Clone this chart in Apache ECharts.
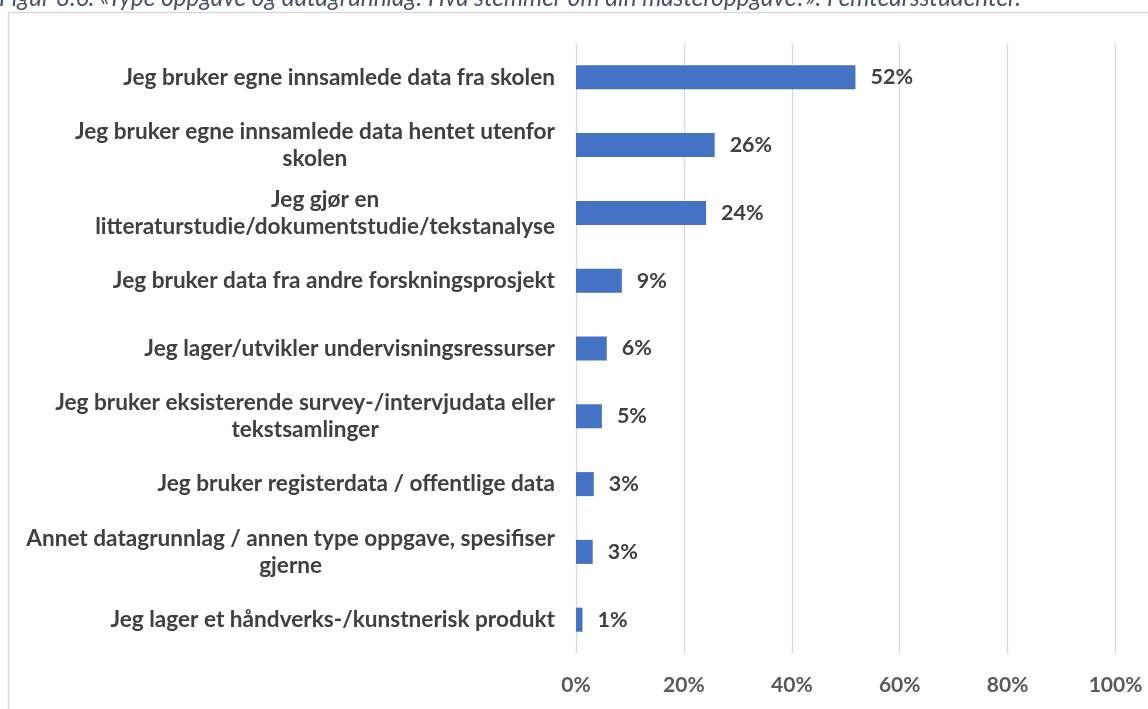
<!DOCTYPE html>
<html>
<head>
<meta charset="utf-8">
<script src="https://cdn.jsdelivr.net/npm/echarts@6/dist/echarts.min.js"></script>
<style>
  html, body { margin: 0; padding: 0; background: #fff; }
  #main { width: 1148px; height: 709px; }
</style>
</head>
<body>
<div id="main"></div>
<script>
// categories top to bottom
const categories = [
  'Jeg bruker egne innsamlede data fra skolen',
  'Jeg bruker egne innsamlede data hentet utenfor\nskolen',
  'Jeg gjør en\nlitteraturstudie/dokumentstudie/tekstanalyse',
  'Jeg bruker data fra andre forskningsprosjekt',
  'Jeg lager/utvikler undervisningsressurser',
  'Jeg bruker eksisterende survey-/intervjudata eller\ntekstsamlinger',
  'Jeg bruker registerdata / offentlige data',
  'Annet datagrunnlag / annen type oppgave, spesifiser\ngjerne',
  'Jeg lager et håndverks-/kunstnerisk produkt'
];
// share in percent
const shares = [51.8, 25.7, 24.1, 8.5, 5.7, 4.8, 3.3, 3.1, 1.2];
// printed labels
const shareLabels = ['52%', '26%', '24%', '9%', '6%', '5%', '3%', '3%', '1%'];

const titleText = 'Figur 8.6. «Type oppgave og datagrunnlag: Hva stemmer om din masteroppgave?». Femteårsstudenter.';

const FONT = 'Lato, "Open Sans", sans-serif';

let myChart = echarts.init(document.getElementById('main'));

let option = {
  animation: false,
  graphic: [
    {
      type: 'rect',
      shape: { x: 8.5, y: 12.5, width: 1160, height: 720 },
      style: { fill: 'none', stroke: '#d9d9d9', lineWidth: 1.5 },
      silent: true
    },
    {
      type: 'text',
      x: -1,
      y: -2,
      style: {
        text: titleText,
        font: 'italic 24.3px ' + FONT,
        fill: '#44546a',
        textVerticalAlign: 'middle'
      }
    }
  ],
  grid: {
    left: 576,
    right: 32.5,
    top: 43.4,
    bottom: 55.4
  },
  xAxis: {
    type: 'value',
    min: 0,
    max: 100,
    interval: 20,
    axisLine: { show: false },
    axisTick: { show: false },
    splitLine: { lineStyle: { color: '#d9d9d9', width: 1.3 } },
    axisLabel: {
      formatter: '{value}%',
      color: '#595959',
      fontFamily: FONT,
      fontWeight: 'bold',
      fontSize: 21,
      margin: 21
    }
  },
  yAxis: {
    type: 'category',
    inverse: true,
    data: categories,
    axisLine: { show: false },
    axisTick: { show: false },
    axisLabel: {
      interval: 0,
      margin: 21,
      align: 'right',
      formatter: function (value) {
        // center each line inside the right aligned block
        return value.split('\n').map(function (l) { return '{c|' + l + '}'; }).join('\n');
      },
      rich: {
        c: {
          align: 'center',
          color: '#404040',
          fontFamily: FONT,
          fontWeight: 'bold',
          fontSize: 22.6,
          lineHeight: 27
        }
      }
    }
  },
  series: [
    {
      type: 'bar',
      data: shares,
      barWidth: 24,
      itemStyle: { color: '#4472c4' },
      label: {
        show: true,
        position: 'right',
        distance: 15,
        formatter: function (p) { return shareLabels[p.dataIndex]; },
        color: '#404040',
        fontFamily: FONT,
        fontWeight: 'bold',
        fontSize: 21.5
      }
    }
  ]
};

myChart.setOption(option);
</script>
</body>
</html>
